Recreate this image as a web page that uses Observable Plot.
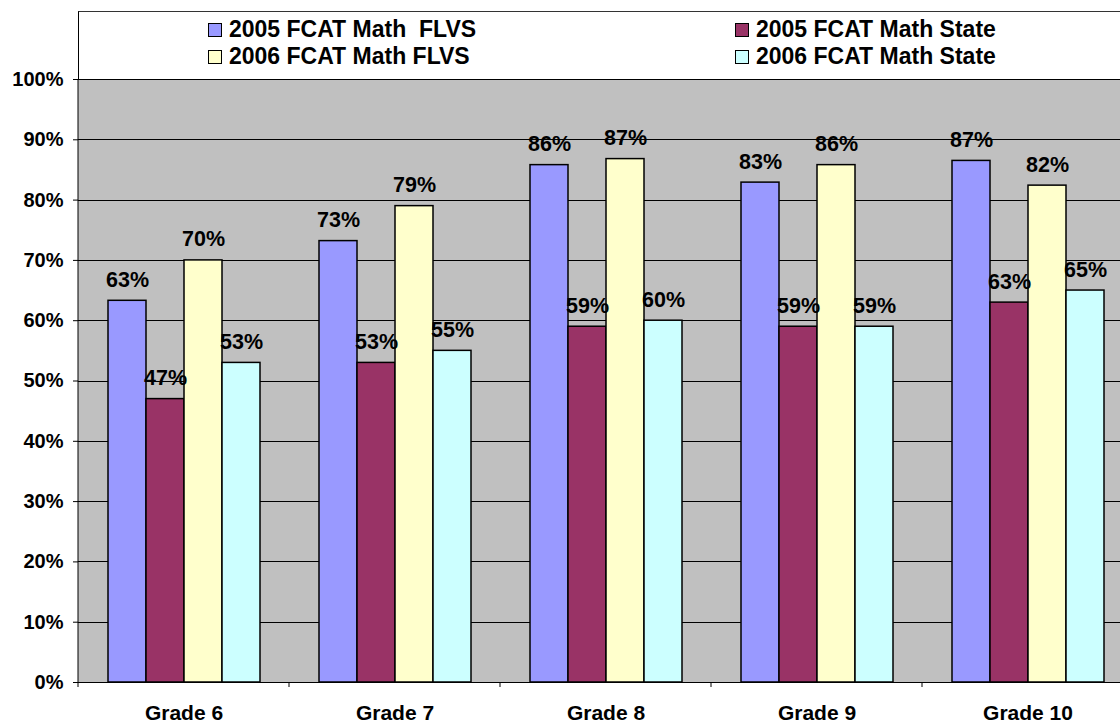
<!DOCTYPE html>
<html><head><meta charset="utf-8">
<script src="https://cdn.jsdelivr.net/npm/d3@7"></script>
<script src="https://cdn.jsdelivr.net/npm/@observablehq/plot@0.6"></script>
<style>
body{margin:0;background:#fff;overflow:hidden;font-family:"Liberation Sans",Arial,sans-serif}
#wrap{position:relative;width:1120px;height:723px;overflow:hidden}
#frame{position:absolute;left:78px;top:11px;right:-10px;height:68px;border-top:1px solid #333;border-left:1px solid #000;box-sizing:border-box}
#legend{position:absolute;left:208px;top:16px;display:grid;grid-template-columns:527px auto}
.item{display:flex;align-items:center;height:27px;font-weight:bold;font-size:23px;white-space:pre;color:#000}
.sw{width:12px;height:12px;border:1.5px solid #000;margin-right:7px;flex:none}
#chart{position:absolute;left:0;top:70px}
</style></head><body>
<div id="wrap"><div id="frame"></div><div id="legend"></div><div id="chart"></div></div>
<script>
const grades = ["Grade 6", "Grade 7", "Grade 8", "Grade 9", "Grade 10"];
const seriesNames = ["2005 FCAT Math  FLVS", "2005 FCAT Math State", "2006 FCAT Math FLVS", "2006 FCAT Math State"];
const seriesColors = ["#9999FF", "#993366", "#FFFFCC", "#CCFFFF"];
const flvs2005 = [63.3, 73.2, 85.8, 82.9, 86.5];
const state2005 = [47, 53, 59, 59, 63];
const flvs2006 = [70, 79, 86.8, 85.8, 82.4];
const state2006 = [53, 55, 60, 59, 65];
const yTicks = [0, 10, 20, 30, 40, 50, 60, 70, 80, 90, 100];

const seriesValues = [flvs2005, state2005, flvs2006, state2006];
const data = grades.flatMap((g, i) => seriesNames.map((s, j) => ({grade: g, series: s, value: seriesValues[j][i]})));

// legend
const legend = document.getElementById("legend");
seriesNames.forEach((s, j) => {
  const it = document.createElement("div");
  it.className = "item";
  const sw = document.createElement("span");
  sw.className = "sw";
  sw.style.background = seriesColors[j];
  const tx = document.createElement("span");
  tx.textContent = s;
  it.appendChild(sw); it.appendChild(tx);
  legend.appendChild(it);
});

const font = '"Liberation Sans", Arial, sans-serif';
const plot = Plot.plot({
  width: 1140, height: 653,
  marginLeft: 78, marginRight: 7, marginTop: 9, marginBottom: 41,
  style: {maxWidth: "none", background: "transparent", fontFamily: font, color: "#000", overflow: "visible"},
  fx: {domain: grades, padding: 0, label: null},
  x: {domain: seriesNames, paddingInner: 0, paddingOuter: 0.76, axis: null},
  y: {domain: [0, 100], label: null},
  color: {domain: seriesNames, range: seriesColors},
  marks: [
    Plot.gridY(yTicks, {stroke: "#000", strokeOpacity: 1, strokeWidth: 1, shapeRendering: "crispEdges"}),
    Plot.barY(data, {fx: "grade", x: "series", y: "value", fill: "series", stroke: "#000", strokeWidth: 1.5}),
    Plot.text(data, {fx: "grade", x: "series", y: "value", text: d => Math.round(d.value) + "%",
      lineAnchor: "bottom", dy: -14, fontSize: 21.5, fontWeight: "bold", fill: "#000"}),
    Plot.axisY(yTicks, {tickSize: 5, tickPadding: 10, tickFormat: d => d + "%", fontSize: 20, fontWeight: "bold", label: null, stroke: "#000"}),
    Plot.axisFx({anchor: "bottom", tickSize: 0, tickPadding: 23, fontSize: 21, fontWeight: "bold", label: null, letterSpacing: 0.6})
  ]
});

const fx = plot.scale("fx"), y = plot.scale("y");
const svg = d3.select(plot);
const x0 = fx.apply(grades[0]);
const xEnd = fx.apply(grades[grades.length - 1]) + fx.bandwidth;
// plot-area background, drawn once behind everything
svg.insert("rect", ":first-child")
  .attr("x", x0).attr("y", y.apply(100))
  .attr("width", xEnd - x0).attr("height", y.apply(0) - y.apply(100))
  .attr("fill", "#c0c0c0");
const g = svg.append("g").attr("stroke", "#000").attr("stroke-width", 1);
g.append("line").attr("x1", x0).attr("x2", x0).attr("y1", y.apply(0)).attr("y2", y.apply(100));
const edges = grades.map(d => fx.apply(d)).concat([xEnd]);
edges.forEach(e => g.append("line").attr("x1", e).attr("x2", e).attr("y1", y.apply(0)).attr("y2", y.apply(0) + 5));

document.getElementById("chart").appendChild(plot);
</script>
</body></html>
